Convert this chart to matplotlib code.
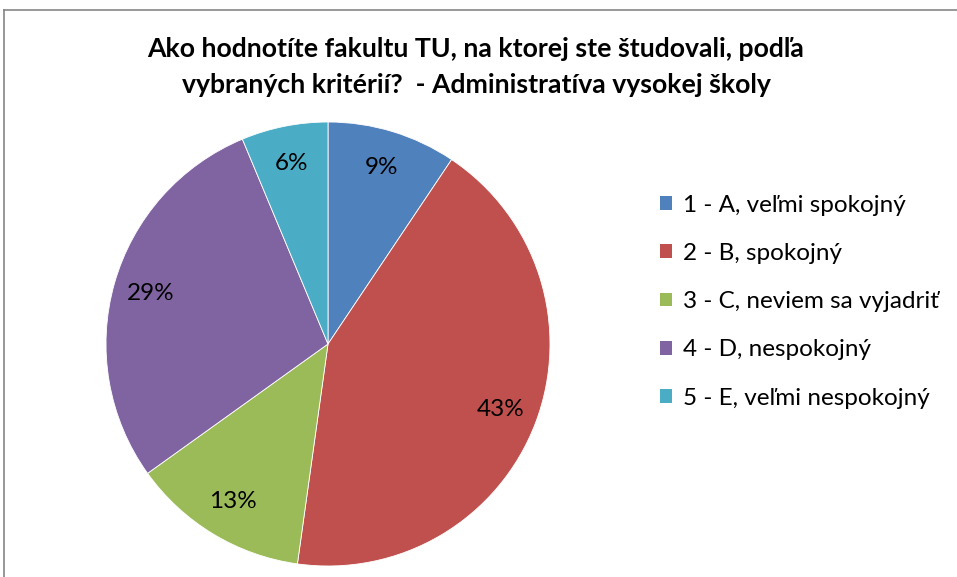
import matplotlib.pyplot as plt
from matplotlib.lines import Line2D
from matplotlib.patches import Patch

plt.rcParams['font.family'] = ['Lato', 'DejaVu Sans']

# Data (percent shares)
labels = ['1 - A, veľmi spokojný', '2 - B, spokojný', '3 - C, neviem sa vyjadriť',
          '4 - D, nespokojný', '5 - E, veľmi nespokojný']
shares = [9.4, 42.8, 12.9, 28.6, 6.3]
colors = ['#4F81BD', '#C0504D', '#9BBB59', '#8064A2', '#4BACC6']
title = ('Ako hodnotíte fakultu TU, na ktorej ste študovali, podľa\n'
         'vybraných kritérií?  - Administratíva vysokej školy')

W, H = 957, 577
fig = plt.figure(figsize=(W / 100, H / 100), dpi=100)

# chart border (only top and left edges visible in the crop)
fig.add_artist(Line2D([4 / W, 4 / W], [0, 1 - 10 / H], color='#868686', lw=1.2))
fig.add_artist(Line2D([4 / W, 1], [1 - 10 / H, 1 - 10 / H], color='#868686', lw=1.2))

# pie centred at (328, 344) px with radius 222 px
cx, cy, r = 328, 344, 222
ax = fig.add_axes([(cx - r) / W, (H - cy - r) / H, 2 * r / W, 2 * r / H])
wedges, _, autotexts = ax.pie(shares, colors=colors, startangle=90, counterclock=False,
                              autopct='%.0f%%', pctdistance=0.83, radius=1,
                              wedgeprops=dict(edgecolor='#ffffff', linewidth=0.6))
for t in autotexts:
    t.set_fontsize(17.5)
    t.set_color('black')
ax.set_xlim(-1, 1)
ax.set_ylim(-1, 1)
ax.set_aspect('equal')
ax.axis('off')

fig.text(476 / W, 1 - 67 / H, title, ha='center', va='center', fontsize=19.2,
         fontweight='bold', linespacing=1.6)

handles = [Patch(facecolor=c, edgecolor='none') for c in colors]
fig.legend(handles, labels, loc='upper left', bbox_to_anchor=(650 / W, 1 - 185 / H),
           frameon=False, fontsize=17.5, handlelength=0.5, handleheight=0.5,
           handletextpad=0.45, labelspacing=1.12, borderaxespad=0)

fig.savefig('out.png', dpi=100)
